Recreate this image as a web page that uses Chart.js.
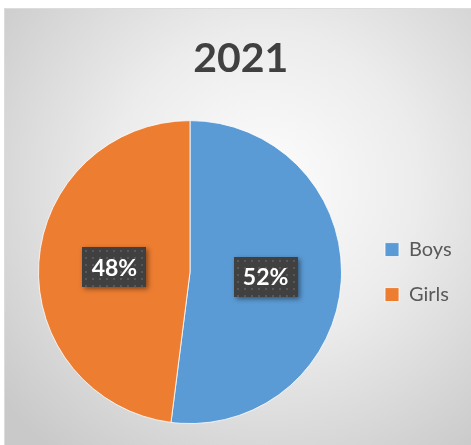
<!DOCTYPE html>
<html>
<head>
<meta charset="utf-8">
<script src="https://cdn.jsdelivr.net/npm/chart.js@4"></script>
<style>
  html, body { margin: 0; padding: 0; background: #ffffff; }
  canvas { display: block; }
</style>
</head>
<body>
<canvas id="c" width="471" height="445"></canvas>
<script>
// ---- data ----
const chartTitle = '2021';
const categories = ['Boys', 'Girls'];
const values = [52, 48];
const sliceColors = ['#5B9BD5', '#ED7D31'];

const FONT = 'Lato, "Open Sans", sans-serif';

function makePattern(ctx) {
  const t = document.createElement('canvas');
  t.width = 7; t.height = 7;
  const g = t.getContext('2d');
  g.fillStyle = '#404040';
  g.fillRect(0, 0, 7, 7);
  g.fillStyle = '#585858';
  g.fillRect(3, 3, 2, 2);
  return ctx.createPattern(t, 'repeat');
}

const backgroundPlugin = {
  id: 'bgFrame',
  beforeDraw(chart) {
    const ctx = chart.ctx;
    const W = chart.width, H = chart.height;
    ctx.save();
    ctx.fillStyle = '#ffffff';
    ctx.fillRect(0, 0, W, H);
    const fx = 4, fy = 8;
    const grad = ctx.createRadialGradient(265, 185, 0, 265, 185, 340);
    grad.addColorStop(0, '#fdfdfd');
    grad.addColorStop(0.45, '#ececec');
    grad.addColorStop(1, '#c9c9c9');
    ctx.fillStyle = grad;
    ctx.fillRect(fx, fy, W - fx, H - fy);
    ctx.strokeStyle = '#dcdcdc';
    ctx.lineWidth = 1;
    ctx.strokeRect(fx + 0.5, fy + 0.5, W - fx, H - fy);
    ctx.restore();
  }
};

const labelPlugin = {
  id: 'pctLabels',
  afterDatasetsDraw(chart) {
    const ctx = chart.ctx;
    const meta = chart.getDatasetMeta(0);
    const data = chart.data.datasets[0].data;
    const total = data.reduce((a, b) => a + b, 0);
    const pattern = makePattern(ctx);
    meta.data.forEach((arc, i) => {
      const p = arc.tooltipPosition();
      const txt = Math.round(data[i] / total * 100) + '%';
      const bw = 64, bh = 40;
      const x = Math.round(p.x - bw / 2), y = Math.round(p.y - bh / 2);
      ctx.save();
      ctx.shadowColor = 'rgba(0,0,0,0.45)';
      ctx.shadowBlur = 5;
      ctx.shadowOffsetX = 2;
      ctx.shadowOffsetY = 2;
      ctx.fillStyle = '#404040';
      ctx.fillRect(x, y, bw, bh);
      ctx.restore();
      ctx.save();
      ctx.translate(x, y);
      ctx.fillStyle = pattern;
      ctx.fillRect(0, 0, bw, bh);
      ctx.restore();
      ctx.save();
      ctx.fillStyle = '#ffffff';
      ctx.font = 'bold 23px ' + FONT;
      ctx.textAlign = 'center';
      ctx.textBaseline = 'middle';
      ctx.fillText(txt, p.x, p.y + 1);
      ctx.restore();
    });
  }
};

function build() {
  const legendFontSize = 20;
  const m = document.createElement('canvas').getContext('2d');
  m.font = legendFontSize + 'px ' + FONT;
  const textW = Math.max(...categories.map(c => m.measureText(c).width));
  const legendPad = 25, boxW = 14;
  const legendW = legendPad + boxW + legendFontSize / 2 + textW + 10;
  const padL = 20;
  const areaRight = 360;
  const padR = Math.max(0, 471 - areaRight - legendW);

  new Chart(document.getElementById('c'), {
    type: 'pie',
    data: {
      labels: categories,
      datasets: [{
        data: values,
        backgroundColor: sliceColors,
        borderColor: '#ffffff',
        borderWidth: 0.8,
        hoverOffset: 0
      }]
    },
    options: {
      responsive: false,
      animation: false,
      events: [],
      layout: { padding: { left: padL, right: padR, top: 0, bottom: 21 } },
      plugins: {
        title: {
          display: true,
          text: chartTitle,
          color: '#404040',
          font: { family: FONT, size: 41, weight: 'bold', lineHeight: 1.2 },
          padding: { top: 34, bottom: 37 }
        },
        legend: {
          display: true,
          position: 'right',
          fullSize: false,
          labels: {
            color: '#595959',
            font: { family: FONT, size: legendFontSize },
            boxWidth: boxW,
            boxHeight: 14,
            padding: legendPad
          }
        },
        tooltip: { enabled: false }
      }
    },
    plugins: [backgroundPlugin, labelPlugin]
  });
}

if (document.fonts && document.fonts.load) {
  Promise.all([
    document.fonts.load('bold 41px Lato'),
    document.fonts.load('20px Lato')
  ]).then(build, build);
} else {
  build();
}
</script>
</body>
</html>
